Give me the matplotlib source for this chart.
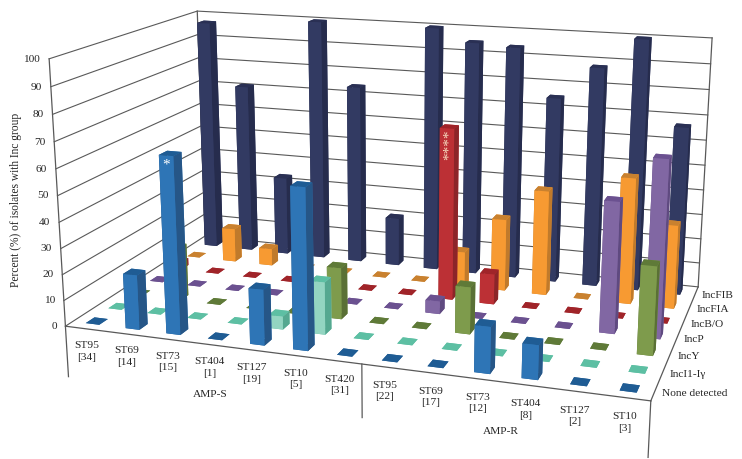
import matplotlib
matplotlib.use('Agg')
import matplotlib.pyplot as plt
from mpl_toolkits.mplot3d import proj3d

# sequence types, with number of isolates under each
st_names = ['ST95', 'ST69', 'ST73', 'ST404', 'ST127', 'ST10', 'ST420',
            'ST95', 'ST69', 'ST73', 'ST404', 'ST127', 'ST10']
st_counts = [34, 14, 15, 1, 19, 5, 31, 22, 17, 12, 8, 2, 3]
groups = ['AMP-S', 'AMP-R']

inc_groups = ['None detected', 'IncI1-I\u03b3', 'IncY', 'IncP', 'IncB/O', 'IncFIA', 'IncFIB']

none_detected = [0, 21, 67, 0, 21, 60, 0, 0, 0, 17, 12.5, 0, 0]
inc_i1 = [0, 0, 0, 0, 5, 20, 0, 0, 0, 0, 0, 0, 0]
inc_y = [0, 21, 0, 0, 0, 20, 0, 0, 18, 0, 0, 0, 33]
inc_p = [0, 0, 0, 0, 0, 0, 0, 5, 0, 0, 0, 50, 67]
inc_bo = [3, 0, 0, 0, 0, 0, 0, 68, 12, 0, 0, 0, 0]
inc_fia = [0, 14, 7, 0, 0, 0, 0, 14, 29, 42, 0, 50, 33]
inc_fib = [97, 71, 33, 100, 74, 20, 100, 95, 94, 75, 88, 100, 67]
series = [none_detected, inc_i1, inc_y, inc_p, inc_bo, inc_fia, inc_fib]

# front, side, top
shades = [('#2E75B6', '#265687', '#1F5C94'),
          ('#93D5C1', '#55A890', '#5DBFA3'),
          ('#7E9B4C', '#5A7035', '#5F7A38'),
          ('#8167A3', '#5F4A80', '#6B5190'),
          ('#BC3035', '#8C2529', '#A02429'),
          ('#F79A32', '#C07A2B', '#C9812F'),
          ('#323A62', '#262C4D', '#2A3054')]

plt.rcParams['font.family'] = ['Liberation Serif', 'DejaVu Sans']
txt = '#262626'
line = '#595959'

n_x = len(st_names)
n_y = len(inc_groups)
dx = 0.34
dy = 0.38

fig = plt.figure(figsize=(7.42, 4.6), dpi=100)
ax = fig.add_axes([0.017, -0.2215, 1, 1.613], projection='3d', computed_zorder=False)
ax.set_proj_type('persp', focal_length=0.37)
ax.view_init(elev=15, azim=-71.5)
ax.set_box_aspect((1.435, 0.79, 0.665), zoom=0.928)
ax.set_axis_off()

# walls
for z in range(0, 101, 10):
    ax.plot([0, 0, n_x], [0, n_y, n_y], [z, z, z], color=line, lw=0.8, zorder=1)
ax.plot([0, 0], [0, 0], [-20, 100], color=line, lw=0.9, zorder=1)
ax.plot([0, 0], [n_y, n_y], [0, 100], color=line, lw=0.9, zorder=1)
ax.plot([n_x, n_x], [n_y, n_y], [0, 100], color=line, lw=0.9, zorder=1)
ax.plot([n_x, n_x], [0, n_y], [0, 0], color=line, lw=0.9, zorder=1)
ax.plot([n_x, n_x], [0, 0], [-20, 0], color=line, lw=0.9, zorder=1)
ax.plot([7, 7], [0, 0], [-20, 0], color=line, lw=0.9, zorder=1)

# back row first, left to right
order = 2
for j in range(n_y - 1, -1, -1):
    front, side, top = shades[j]
    for i in range(n_x):
        v = series[j][i]
        # faces: bottom, top, front, back, left, right
        cols = [top, top, front, front, side, side]
        bar = ax.bar3d(i + 0.5 - dx / 2, j + 0.5 - dy / 2, 0, dx, dy, v,
                       color=cols, shade=False, linewidth=0)
        bar.set_zorder(order)
        order += 1
ax.plot([0, n_x], [0, 0], [0, 0], color=line, lw=0.9, zorder=order)
order += 1

ax.set_xlim(0, n_x)
ax.set_ylim(0, n_y)
ax.set_zlim(0, 100)


def label(x, y, z, s, **kw):
    # text placed at a 3d point, but stored in 2d
    px, py, _ = proj3d.proj_transform(x, y, z, ax.get_proj())
    return ax.text2D(px, py, s, transform=ax.transData, **kw)


# significance marks on the bars
label(2.5, 0.5 - dy / 2, 64, '*', color='white', fontsize=11, ha='center', va='center', zorder=order)
label(7.55, 4.5 - dy / 2, 62, '****', color='#F6DCC0', fontsize=11, rotation=90,
      ha='center', va='center', zorder=order)

# axis text
for z in range(0, 101, 10):
    label(-0.22, 0, z, str(z), color=txt, fontsize=8.2, ha='right', va='center')
for i in range(n_x):
    label(i + 0.5, 0, -8.5, '%s\n[%d]' % (st_names[i], st_counts[i]), color=txt,
          fontsize=8.2, ha='center', va='center', linespacing=1.35)
label(3.5, 0, -19, groups[0], color=txt, fontsize=8.2, ha='center', va='center')
label(10, 0, -17.5, groups[1], color=txt, fontsize=8.2, ha='center', va='center')
for j in range(n_y):
    label(n_x + 0.15, j + 0.5, 0, inc_groups[j], color=txt, fontsize=8.2, ha='left', va='center')

fig.text(16 / 742, 1 - 200 / 460, 'Percent (%) of isolates with Inc group', color=txt,
         fontsize=8.3, rotation=90, ha='center', va='center')

fig.savefig('out.png', dpi=100)
